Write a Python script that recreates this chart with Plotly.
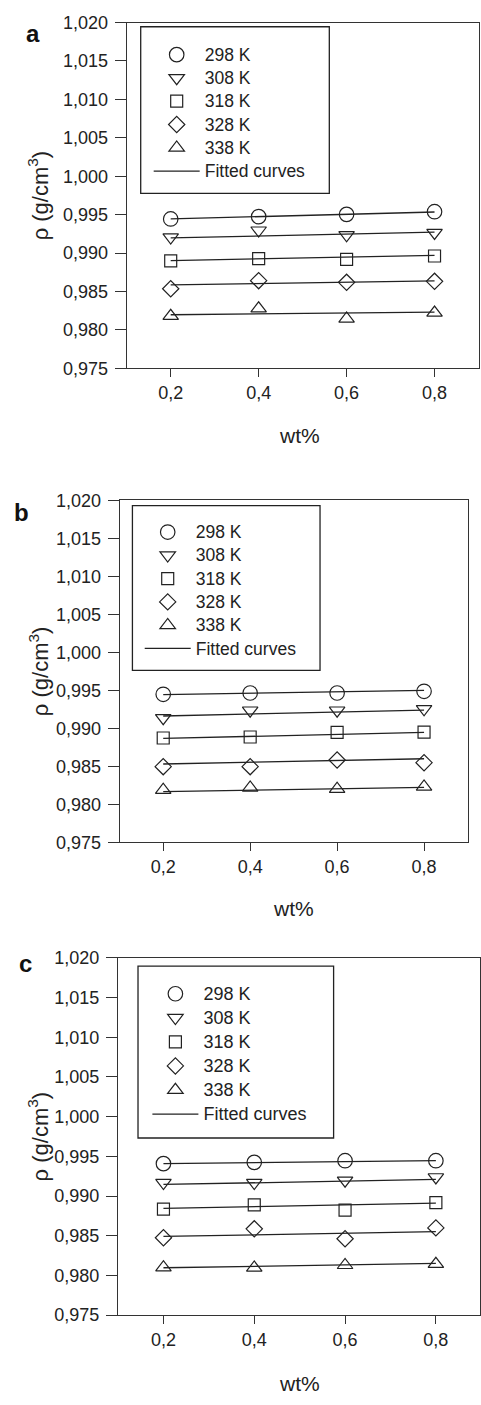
import plotly.graph_objects as go

W, H = 481, 1405

# composition (wt%) and density values for the three samples
wt = [0.2, 0.4, 0.6, 0.8]
temperatures = ["298 K", "308 K", "318 K", "328 K", "338 K"]

rho_a = [
    [0.99444, 0.99474, 0.99504, 0.99538],
    [0.99205, 0.99295, 0.99235, 0.99265],
    [0.98897, 0.98927, 0.98919, 0.98962],
    [0.98535, 0.98641, 0.98619, 0.98632],
    [0.98180, 0.98278, 0.98145, 0.98222],
]
rho_b = [
    [0.99447, 0.99464, 0.99464, 0.99486],
    [0.99136, 0.99235, 0.99235, 0.99252],
    [0.98872, 0.98885, 0.98945, 0.98949],
    [0.98495, 0.98495, 0.98582, 0.98547],
    [0.98188, 0.98218, 0.98201, 0.98231],
]
rho_c = [
    [0.99408, 0.99424, 0.99445, 0.99445],
    [0.99167, 0.99167, 0.99196, 0.99238],
    [0.98835, 0.98889, 0.98823, 0.98918],
    [0.98475, 0.98587, 0.98462, 0.98599],
    [0.98101, 0.98097, 0.98130, 0.98143],
]

# fitted straight lines: density at wt = 0.2 and wt = 0.8
fit_x = [0.2, 0.8]
fit_a = [[0.99444, 0.99534], [0.99197, 0.99273], [0.98902, 0.98970], [0.98585, 0.98637], [0.98197, 0.98231]]
fit_b = [[0.99443, 0.99499], [0.99161, 0.99239], [0.98867, 0.98945], [0.98530, 0.98599], [0.98166, 0.98223]]
fit_c = [[0.99408, 0.99445], [0.99146, 0.99209], [0.98844, 0.98910], [0.98491, 0.98553], [0.98097, 0.98151]]

y_tickvals = [0.975, 0.980, 0.985, 0.990, 0.995, 1.000, 1.005, 1.010, 1.015, 1.020]
x_tickvals = [0.2, 0.4, 0.6, 0.8]

symbols = ["circle-open", "triangle-down-open", "square-open", "diamond-open", "triangle-up-open"]
msizes = [14.5, 13.5, 12, 12.5, 13.5]

INK = "#222222"
AXIS = "#333333"
FONT = "Liberation Sans, Arial, sans-serif"


def fx(px):
    return px / W


def fy(py):
    return 1 - py / H


# pixel geometry of each panel
panels = [
    dict(tag="a", data=rho_a, fit=fit_a, left=127, right=479.5, top=12.7, bottom=363.5, xmax=0.9,
         box=(141, 17, 330, 186), leg=(149, 28.4), legrow=15.6, legtext=17.5,
         letter=(33, 24), title_y=432, wt_x=300),
    dict(tag="b", data=rho_b, fit=fit_b, left=120, right=468.5, top=497.3, bottom=844.3, xmax=0.9,
         box=(132.7, 502.7, 320.7, 670), leg=(140, 512.7), legrow=15.6, legtext=17.5,
         letter=(22, 510), title_y=911.7, wt_x=294),
    dict(tag="c", data=rho_c, fit=fit_c, left=118.3, right=481, top=961.5, bottom=1324, xmax=0.8972,
         box=(138.3, 970, 334.3, 1144.3), leg=(147.7, 980.7), legrow=16.2, legtext=18,
         letter=(25.5, 967), title_y=1393.3, wt_x=300),
]

fig = go.Figure()
layout = dict(
    width=W, height=H, margin=dict(l=0, r=0, t=0, b=0),
    paper_bgcolor="white", plot_bgcolor="white",
    separators=",.", font=dict(family=FONT, color=INK),
    showlegend=True, annotations=[], shapes=[],
)

for i, p in enumerate(panels):
    n = "" if i == 0 else str(i + 1)
    xa, ya = "x" + n, "y" + n
    legname = "legend" + n
    span = '<span style="font-size:%gpx">%s</span>'

    for k in range(5):
        fig.add_trace(go.Scatter(
            x=wt, y=p["data"][k], mode="markers", name=span % (p["legtext"], temperatures[k]),
            xaxis=xa, yaxis=ya, legend=legname, legendrank=k + 1,
            marker=dict(symbol=symbols[k], size=msizes[k], color=INK, line=dict(width=1.2, color=INK)),
            hoverinfo="x+y",
        ))
    for k in range(5):
        fig.add_trace(go.Scatter(
            x=fit_x, y=p["fit"][k], mode="lines", name=span % (p["legtext"], "Fitted curves"),
            xaxis=xa, yaxis=ya, legend=legname, legendrank=10,
            showlegend=(k == 0), line=dict(color=INK, width=1.3),
            hoverinfo="skip",
        ))

    layout["xaxis" + n] = dict(
        domain=[fx(p["left"]), min(1.0, fx(p["right"]))], range=[0.1, p["xmax"]],
        anchor=ya, tickvals=x_tickvals, tickformat=".1f",
        showline=True, mirror=True, linecolor=AXIS, linewidth=1.3,
        ticks="outside", ticklen=8, tickwidth=1.3, tickcolor=AXIS,
        showgrid=False, zeroline=False,
        tickfont=dict(size=18, family=FONT, color=INK),
    )
    layout["yaxis" + n] = dict(
        domain=[fy(p["bottom"]), fy(p["top"])], range=[0.975, 1.020],
        anchor=xa, tickvals=y_tickvals, tickformat=".3f",
        showline=True, mirror=True, linecolor=AXIS, linewidth=1.3,
        ticks="outside", ticklen=11, tickwidth=1.3, tickcolor=AXIS,
        ticklabelstandoff=3,
        showgrid=False, zeroline=False,
        tickfont=dict(size=18, family=FONT, color=INK),
    )
    layout[legname] = dict(
        x=fx(p["leg"][0]), y=fy(p["leg"][1]), xanchor="left", yanchor="top",
        xref="paper", yref="paper",
        bgcolor="rgba(0,0,0,0)", borderwidth=0, itemwidth=46,
        font=dict(size=p["legrow"], family=FONT, color=INK),
        traceorder="normal",
    )
    bx0, by0, bx1, by1 = p["box"]
    layout["shapes"].append(dict(
        type="rect", xref="paper", yref="paper",
        x0=fx(bx0), x1=fx(bx1), y0=fy(by1), y1=fy(by0),
        line=dict(color=INK, width=1.3), fillcolor="rgba(0,0,0,0)",
    ))
    # panel letter
    layout["annotations"].append(dict(
        text="<b>%s</b>" % p["tag"], xref="paper", yref="paper",
        x=fx(p["letter"][0]), y=fy(p["letter"][1]), xanchor="center", yanchor="middle",
        showarrow=False, font=dict(size=24, family=FONT, color="#111111"),
    ))
    # axis titles
    layout["annotations"].append(dict(
        text="ρ (g/cm<sup>3</sup>)", xref="paper", yref="paper", textangle=-90,
        x=fx(39), y=fy((p["top"] + p["bottom"]) / 2), xanchor="center", yanchor="middle",
        showarrow=False, font=dict(size=22, family=FONT, color=INK),
    ))
    layout["annotations"].append(dict(
        text="wt%", xref="paper", yref="paper",
        x=fx(p["wt_x"]), y=fy(p["title_y"]), xanchor="center", yanchor="middle",
        showarrow=False, font=dict(size=21, family=FONT, color=INK),
    ))

fig.update_layout(**layout)
fig.write_html("out.html")
